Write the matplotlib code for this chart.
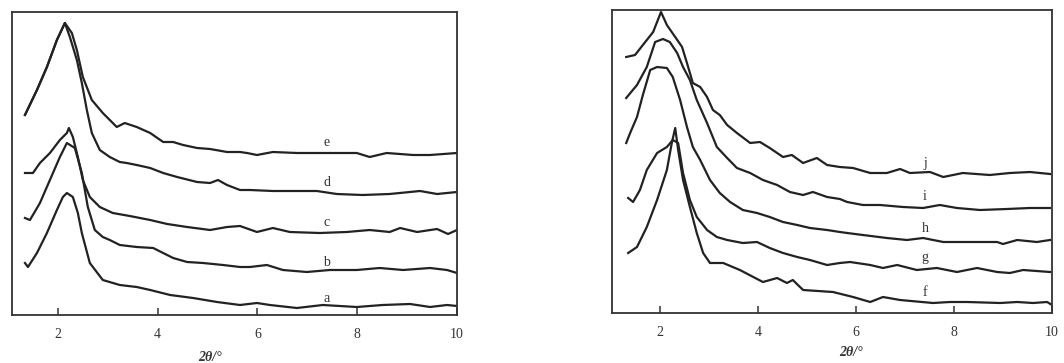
import matplotlib.pyplot as plt

plt.rcParams['font.family'] = ['Liberation Serif', 'DejaVu Serif']

# left panel: samples a-e, 2theta (deg) and intensity (arb.)
xa = [1.34, 1.40, 1.58, 1.78, 1.98, 2.10, 2.18, 2.30, 2.40, 2.48, 2.64, 2.90, 3.24, 3.58, 3.85, 4.25, 4.71,
      5.19, 5.65, 5.99, 6.25, 6.79, 7.31, 7.99, 8.51, 9.06, 9.46, 9.80, 10.0]
ya = [52, 48, 62, 82, 105, 118, 122, 118, 102, 82, 52, 35, 30, 28, 25, 20, 17,
      13, 10, 12, 10, 7, 10, 8, 10, 11, 8, 10, 9]

xb = [1.34, 1.44, 1.64, 1.84, 2.04, 2.18, 2.34, 2.48, 2.60, 2.74, 2.90, 3.04, 3.24, 3.58, 3.91, 4.11, 4.31,
      4.59, 4.91, 5.31, 5.65, 5.85, 6.19, 6.51, 6.99, 7.45, 7.99, 8.45, 8.92, 9.46, 9.80, 10.0]
yb = [97, 95, 112, 135, 158, 172, 167, 142, 108, 85, 78, 75, 70, 68, 67, 62, 57,
      53, 52, 50, 48, 48, 50, 45, 43, 45, 45, 47, 45, 47, 45, 42]

xc = [1.34, 1.50, 1.64, 1.84, 2.04, 2.18, 2.22, 2.30, 2.40, 2.50, 2.64, 2.84, 3.10, 3.44, 3.85, 4.19, 4.59,
      5.05, 5.39, 5.65, 5.99, 6.31, 6.65, 7.25, 7.79, 8.25, 8.65, 8.86, 9.20, 9.60, 9.82, 10.0]
yc = [142, 142, 152, 162, 175, 182, 187, 178, 158, 135, 118, 108, 102, 99, 95, 91, 88,
      85, 88, 89, 83, 87, 83, 82, 83, 85, 83, 87, 83, 86, 81, 85]

xd = [1.34, 1.58, 1.78, 1.98, 2.14, 2.24, 2.38, 2.48, 2.58, 2.68, 2.84, 3.04, 3.24, 3.38, 3.58, 3.85, 4.11,
      4.39, 4.79, 5.05, 5.21, 5.39, 5.65, 5.85, 6.31, 6.79, 7.19, 7.59, 8.11, 8.65, 9.26, 9.60, 10.0]
yd = [200, 225, 248, 275, 292, 278, 255, 232, 205, 182, 165, 158, 153, 152, 150, 147, 142,
      138, 133, 132, 135, 130, 125, 125, 124, 124, 124, 121, 120, 121, 124, 121, 123]

xe = [1.34, 1.58, 1.78, 1.98, 2.14, 2.28, 2.38, 2.50, 2.68, 2.90, 3.18, 3.34, 3.58, 3.85, 4.11, 4.31, 4.51,
      4.79, 5.05, 5.39, 5.65, 5.79, 5.99, 6.31, 6.79, 7.11, 7.45, 7.99, 8.25, 8.59, 9.12, 9.46, 10.0]
ye = [200, 225, 248, 275, 292, 282, 265, 238, 215, 202, 188, 192, 188, 182, 173, 173, 170,
      167, 166, 163, 163, 162, 160, 163, 162, 162, 162, 162, 158, 162, 160, 160, 162]

# right panel: samples f-j
xf = [1.35, 1.53, 1.73, 1.94, 2.14, 2.24, 2.31, 2.37, 2.47, 2.61, 2.75, 2.88, 3.02, 3.29, 3.63, 4.10, 4.39,
      4.59, 4.71, 4.92, 5.53, 5.94, 6.29, 6.55, 6.90, 7.57, 7.92, 8.27, 8.94, 9.29, 9.61, 9.90, 10.0]
yf = [60, 66, 86, 113, 143, 170, 185, 163, 133, 106, 80, 60, 50, 50, 43, 31, 35,
      30, 33, 23, 21, 16, 11, 16, 13, 10, 11, 11, 10, 11, 10, 11, 8]

xg = [1.35, 1.45, 1.59, 1.73, 1.94, 2.14, 2.26, 2.37, 2.47, 2.61, 2.75, 2.96, 3.16, 3.37, 3.69, 3.98, 4.24,
      4.51, 4.80, 5.06, 5.41, 5.67, 5.88, 6.29, 6.55, 6.84, 7.24, 7.65, 8.06, 8.47, 8.88, 9.14, 9.41, 9.96]
yg = [115, 111, 123, 143, 160, 166, 173, 170, 140, 113, 96, 83, 76, 73, 70, 71, 65,
      60, 56, 53, 48, 50, 51, 48, 45, 48, 43, 45, 41, 45, 41, 40, 43, 41]

xh = [1.31, 1.39, 1.53, 1.65, 1.80, 1.94, 2.14, 2.26, 2.41, 2.55, 2.67, 2.82, 3.02, 3.22, 3.43, 3.69, 3.98,
      4.24, 4.51, 4.80, 5.06, 5.41, 5.67, 5.82, 6.14, 6.63, 7.04, 7.37, 7.78, 8.33, 8.88, 9.00, 9.29, 9.69, 9.96]
yh = [170, 180, 196, 218, 243, 246, 245, 236, 213, 186, 166, 153, 133, 120, 111, 103, 100,
      96, 91, 88, 85, 83, 81, 80, 78, 75, 73, 75, 71, 71, 71, 69, 73, 71, 73]

xi = [1.31, 1.53, 1.73, 1.90, 2.06, 2.20, 2.35, 2.47, 2.61, 2.75, 2.96, 3.16, 3.37, 3.57, 3.84, 4.10, 4.39,
      4.65, 4.92, 5.12, 5.41, 5.67, 5.82, 6.14, 6.49, 6.96, 7.37, 7.71, 8.06, 8.53, 9.08, 9.55, 9.96]
yi = [215, 228, 246, 271, 274, 271, 260, 246, 233, 213, 190, 166, 155, 145, 140, 133, 128,
      121, 118, 121, 116, 114, 111, 108, 108, 106, 105, 108, 105, 103, 104, 105, 105]

xj = [1.31, 1.49, 1.65, 1.86, 2.02, 2.14, 2.31, 2.45, 2.55, 2.67, 2.82, 2.96, 3.08, 3.22, 3.37, 3.57, 3.84,
      4.04, 4.24, 4.51, 4.69, 4.92, 5.20, 5.41, 5.67, 5.94, 6.29, 6.63, 6.90, 7.10, 7.51, 7.78, 8.18, 8.73,
      9.14, 9.55, 9.96]
yj = [256, 258, 268, 281, 301, 288, 276, 266, 250, 230, 226, 216, 203, 198, 188, 180, 170,
      171, 165, 156, 158, 150, 155, 148, 146, 145, 140, 140, 144, 140, 141, 136, 140, 138,
      140, 141, 139]

left_curves = [(xa, ya), (xb, yb), (xc, yc), (xd, yd), (xe, ye)]
left_labels = ['a', 'b', 'c', 'd', 'e']
left_label_y = [17, 53, 92, 132, 172]

right_curves = [(xf, yf), (xg, yg), (xh, yh), (xi, yi), (xj, yj)]
right_labels = ['f', 'g', 'h', 'i', 'j']
right_label_y = [21, 55, 85, 116, 150]

fig = plt.figure(figsize=(10.64, 3.63), dpi=100)
ax1 = fig.add_axes([12 / 1064, 48 / 363, 445 / 1064, 303 / 363])
ax2 = fig.add_axes([612 / 1064, 50 / 363, 440 / 1064, 303 / 363])

panels = [
    (ax1, left_curves, left_labels, left_label_y, 1.08, 7.39, 0.445, -0.12),
    (ax2, right_curves, right_labels, right_label_y, 1.02, 7.41, 0.543, -0.11),
]

for ax, curves, labels, label_y, xmin, xlab, xlab_pos, xlab_y in panels:
    for x, y in curves:
        ax.plot(x, y, color='#222222', lw=1.6)
    for lab, ly in zip(labels, label_y):
        ax.text(xlab, ly, lab, ha='center', va='center', fontsize=10, color='#333333')
    ax.set_xlim(xmin, 10)
    ax.set_ylim(0, 303)
    ax.set_xticks([2, 4, 6, 8, 10])
    ax.set_xticklabels(['2', '4', '6', '8', '10'])
    ax.set_yticks([])
    ax.tick_params(axis='x', direction='in', length=5, width=1.1, pad=9,
                   labelsize=10, colors='#333333')
    for s in ax.spines.values():
        s.set_color('#333333')
        s.set_linewidth(1.3)
    ax.set_xlabel('2θ/°', fontsize=10, fontstyle='italic', fontweight='bold', color='#333333')
    ax.xaxis.set_label_coords(xlab_pos, xlab_y)

fig.savefig('out.png', dpi=100, facecolor='white')
